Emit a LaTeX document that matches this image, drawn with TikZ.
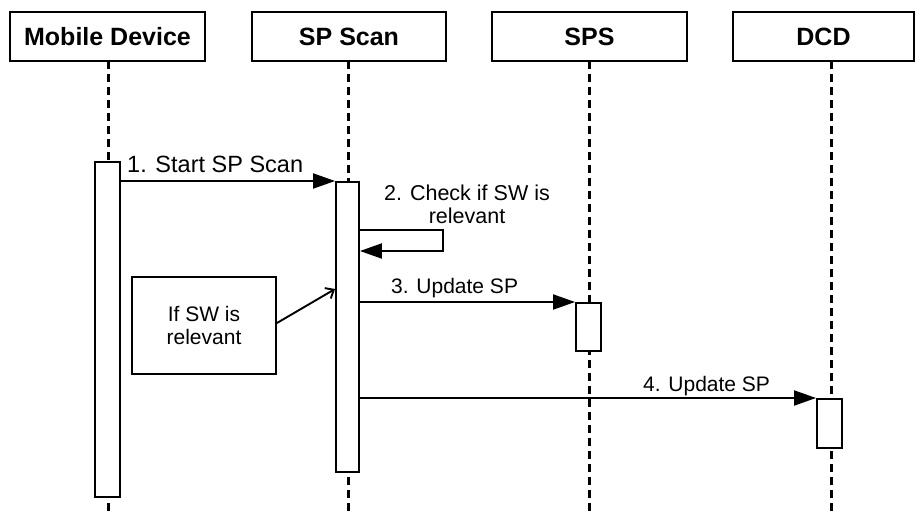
\documentclass[tikz,border=0pt]{standalone}
\usepackage{fontspec}
\setmainfont{Liberation Sans}
\usetikzlibrary{arrows.meta}
\begin{document}
\begin{tikzpicture}[x=1pt,y=-1pt,
  actor/.style={draw,line width=2.3pt,minimum height=49pt,inner sep=0pt,
    font=\bfseries\fontsize{25}{28}\selectfont},
  lifeline/.style={line width=3pt,dash pattern=on 8pt off 5pt},
  bar/.style={draw,fill=white,line width=1.9pt,minimum width=24pt,inner sep=0pt,anchor=north},
  msg/.style={line width=2pt,-{Triangle[length=22pt,width=15pt]}},
  lbl/.style={font=\fontsize{21}{25}\selectfont,inner sep=0pt,anchor=base},
  notebox/.style={draw,line width=1.9pt,minimum width=144pt,minimum height=97pt,
    inner sep=0pt,align=center,font=\fontsize{21}{23.5}\selectfont}
]
\useasboundingbox (0,0) rectangle (916,515);

% participants
\node[actor,minimum width=195pt] (md)  at (107.5,36.5) {Mobile Device};
\node[actor,minimum width=194pt] (sc)  at (349,36.5)   {SP Scan};
\node[actor,minimum width=195pt] (sps) at (589.5,36.5) {SPS};
\node[actor,minimum width=181pt] (dcd) at (823.5,36.5) {DCD};

% lifelines
\coordinate (mdtop)  at (108,61);
\coordinate (sctop)  at (348,61);
\coordinate (spstop) at (589,61);
\coordinate (dcdtop) at (831,61);
\draw[lifeline] (mdtop)  -- (108,515);
\draw[lifeline] (sctop)  -- (348,515);
\draw[lifeline] (spstop) -- (589,515);
\draw[lifeline] (dcdtop) -- (831,515);

% activation bars
\node[bar,minimum width=25pt,minimum height=335pt] (mdbar)  at (107.5,161) {};
\node[bar,minimum width=23pt,minimum height=290pt] (scbar)  at (347.5,181) {};
\node[bar,minimum width=25pt,minimum height=48pt]  (spsbar) at (588.5,302) {};
\node[bar,minimum width=25pt,minimum height=49pt]  (dcdbar) at (829.5,398) {};

% 1. start scan
\draw[msg] (mdbar.east |- scbar.north) --
  node[lbl,pos=0.44,yshift=9pt,font=\fontsize{23.5}{27}\selectfont] {1. Start SP Scan}
  (scbar.north west);

% 2. self check
\coordinate (s2a) at (443,230);
\coordinate (s2b) at (443,251);
\draw[msg] (scbar.east |- s2a) -- (s2a) -- (s2b) -- (scbar.east |- s2b);
\node[lbl,align=center,font=\fontsize{21.5}{23}\selectfont] (l2) at (467,223)
  {2. Check if SW is\\relevant};

% 3. update SPS
\draw[msg] (scbar.east |- spsbar.north) --
  node[lbl,pos=0.44,yshift=9pt] {3. Update SP} (spsbar.north west);

% 4. update DCD
\draw[msg] (scbar.east |- dcdbar.north) --
  node[lbl,pos=0.76,yshift=7pt] {4. Update SP} (dcdbar.north west);

% condition note
\node[notebox] (note) at (204,325.5) {If SW is\\relevant};
\draw[line width=1.9pt,-{Straight Barb[length=7pt,width=12pt]}]
  (note.east |- 0,323) -- (scbar.west |- 0,289);
\end{tikzpicture}
\end{document}
